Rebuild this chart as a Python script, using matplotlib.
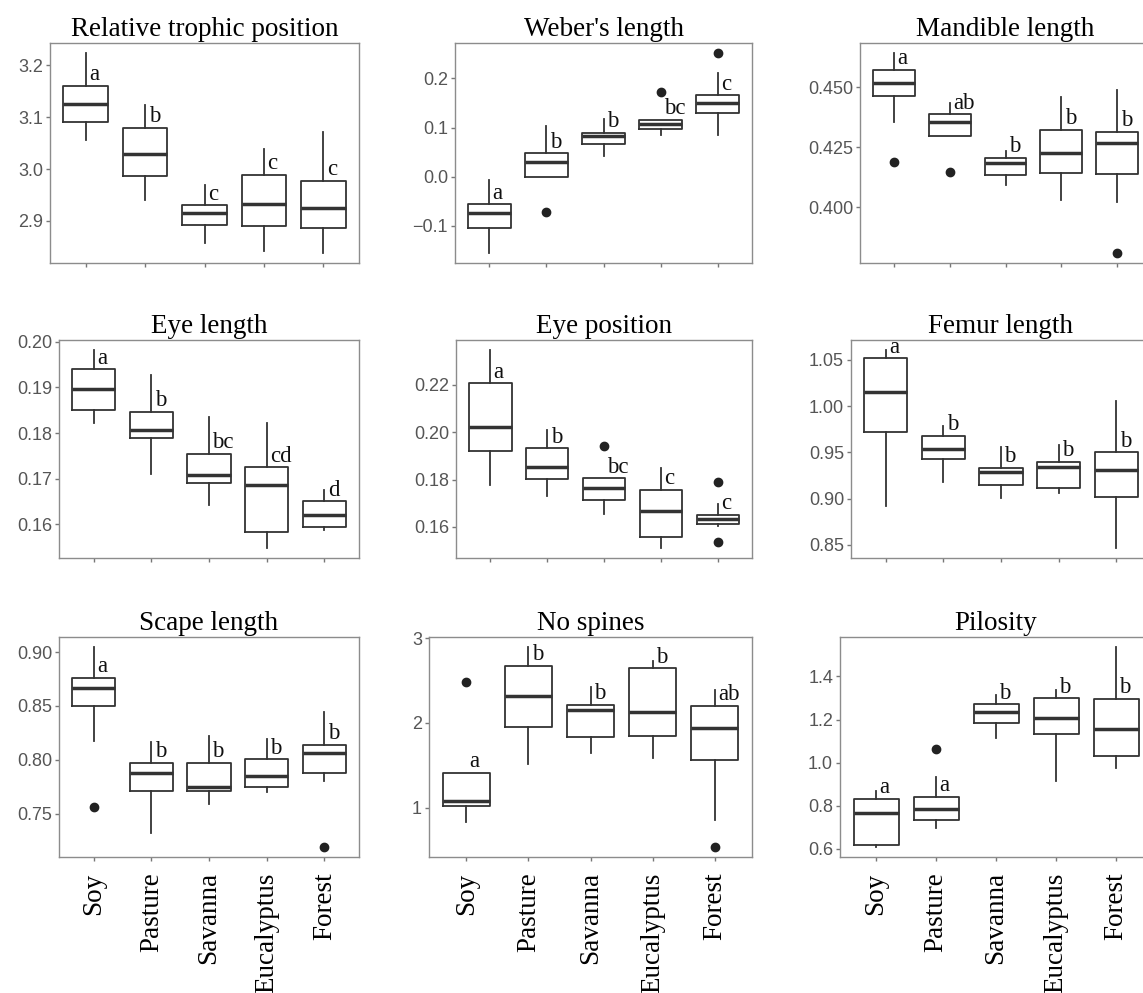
import matplotlib
matplotlib.use("Agg")
import matplotlib.pyplot as plt
from matplotlib.ticker import FixedLocator, FuncFormatter

HABITATS = ["Soy", "Pasture", "Savanna", "Eucalyptus", "Forest"]

# per habitat: (lower whisker, Q1, median, Q3, upper whisker)
TROPHIC = [(3.057, 3.090, 3.125, 3.161, 3.224), (2.941, 2.987, 3.030, 3.080, 3.124),
           (2.858, 2.893, 2.916, 2.930, 2.969), (2.842, 2.890, 2.932, 2.989, 3.039),
           (2.838, 2.887, 2.924, 2.977, 3.071)]
TROPHIC_OUT = [[], [], [], [], []]
TROPHIC_GRP = ["a", "b", "c", "c", "c"]

WEBER = [(-0.156, -0.105, -0.075, -0.057, -0.007), (0.000, 0.000, 0.029, 0.047, 0.103),
         (0.041, 0.066, 0.083, 0.089, 0.118), (0.084, 0.097, 0.107, 0.116, 0.116),
         (0.084, 0.130, 0.149, 0.166, 0.211)]
WEBER_OUT = [[], [-0.073], [], [0.173], [0.252]]
WEBER_GRP = ["a", "b", "b", "bc", "c"]

MANDIBLE = [(0.4358, 0.4465, 0.4518, 0.4574, 0.4644), (0.4297, 0.4297, 0.4358, 0.4388, 0.4434),
            (0.4092, 0.4134, 0.4183, 0.4207, 0.4235), (0.4029, 0.4141, 0.4225, 0.4323, 0.4461),
            (0.4022, 0.4137, 0.4267, 0.4314, 0.4490)]
MANDIBLE_OUT = [[0.4190], [0.4148], [], [], [0.3809]]
MANDIBLE_GRP = ["a", "ab", "b", "b", "b"]

EYE_LEN = [(0.1823, 0.1850, 0.1896, 0.1940, 0.1982), (0.1711, 0.1788, 0.1807, 0.1847, 0.1927),
           (0.1643, 0.1691, 0.1707, 0.1754, 0.1834), (0.1548, 0.1583, 0.1687, 0.1725, 0.1823),
           (0.1587, 0.1594, 0.1621, 0.1651, 0.1676)]
EYE_LEN_OUT = [[], [], [], [], []]
EYE_LEN_GRP = ["a", "b", "bc", "cd", "d"]

EYE_POS = [(0.1777, 0.1919, 0.2023, 0.2207, 0.2348), (0.1732, 0.1802, 0.1854, 0.1932, 0.2010),
           (0.1655, 0.1714, 0.1764, 0.1805, 0.1805), (0.1510, 0.1559, 0.1665, 0.1757, 0.1849),
           (0.1603, 0.1613, 0.1634, 0.1652, 0.1697)]
EYE_POS_OUT = [[], [], [0.1940], [], [0.1788, 0.1535]]
EYE_POS_GRP = ["a", "b", "bc", "c", "c"]

FEMUR = [(0.8914, 0.9723, 1.0155, 1.0518, 1.0608), (0.9184, 0.9428, 0.9536, 0.9680, 0.9788),
         (0.9004, 0.9151, 0.9284, 0.9331, 0.9554), (0.9061, 0.9112, 0.9338, 0.9399, 0.9579),
         (0.8464, 0.9022, 0.9309, 0.9500, 1.0058)]
FEMUR_OUT = [[], [], [], [], []]
FEMUR_GRP = ["a", "b", "b", "b", "b"]

SCAPE = [(0.8175, 0.8502, 0.8667, 0.8760, 0.9047), (0.7323, 0.7709, 0.7880, 0.7973, 0.8160),
         (0.7593, 0.7709, 0.7749, 0.7973, 0.8222), (0.7696, 0.7743, 0.7852, 0.8004, 0.8191),
         (0.7805, 0.7873, 0.8060, 0.8138, 0.8440)]
SCAPE_OUT = [[0.7556], [], [], [], [0.7189]]
SCAPE_GRP = ["a", "b", "b", "b", "b"]

SPINES = [(0.830, 1.020, 1.075, 1.410, 1.410), (1.509, 1.955, 2.318, 2.673, 2.894),
          (1.639, 1.836, 2.152, 2.211, 2.428), (1.580, 1.848, 2.132, 2.645, 2.724),
          (0.858, 1.560, 1.943, 2.199, 2.389)]
SPINES_OUT = [[2.487], [], [], [], [0.535]]
SPINES_GRP = ["a", "b", "b", "b", "ab"]

PILOSITY = [(0.608, 0.617, 0.768, 0.831, 0.870), (0.698, 0.734, 0.784, 0.842, 0.935),
            (1.116, 1.182, 1.233, 1.271, 1.314), (0.913, 1.132, 1.205, 1.299, 1.338),
            (0.976, 1.030, 1.154, 1.296, 1.537)]
PILOSITY_OUT = [[], [1.065], [], [], []]
PILOSITY_GRP = ["a", "a", "b", "b", "b"]

PANELS = [
    ("Relative trophic position", TROPHIC, TROPHIC_OUT, TROPHIC_GRP, [2.9, 3.0, 3.1, 3.2], 1),
    ("Weber's length", WEBER, WEBER_OUT, WEBER_GRP, [-0.1, 0.0, 0.1, 0.2], 1),
    ("Mandible length", MANDIBLE, MANDIBLE_OUT, MANDIBLE_GRP, [0.400, 0.425, 0.450], 3),
    ("Eye length", EYE_LEN, EYE_LEN_OUT, EYE_LEN_GRP, [0.16, 0.17, 0.18, 0.19, 0.20], 2),
    ("Eye position", EYE_POS, EYE_POS_OUT, EYE_POS_GRP, [0.16, 0.18, 0.20, 0.22], 2),
    ("Femur length", FEMUR, FEMUR_OUT, FEMUR_GRP, [0.85, 0.90, 0.95, 1.00, 1.05], 2),
    ("Scape length", SCAPE, SCAPE_OUT, SCAPE_GRP, [0.75, 0.80, 0.85, 0.90], 2),
    ("No spines", SPINES, SPINES_OUT, SPINES_GRP, [1, 2, 3], 0),
    ("Pilosity", PILOSITY, PILOSITY_OUT, PILOSITY_GRP, [0.6, 0.8, 1.0, 1.2, 1.4], 1),
]

# plot areas in pixels: left, top, right, bottom
W, H = 1143, 993
BOXES = [
    (50, 43, 359, 263), (455, 43, 752, 263), (860, 43, 1151, 263),
    (59, 340, 359, 558), (456, 340, 752, 558), (851, 340, 1151, 558),
    (59, 637, 359, 857), (429, 637, 752, 857), (840, 637, 1152, 857),
]

SERIF = "Liberation Serif"
SANS = "Liberation Sans"
EDGE = "#333333"


def tick_fmt(decimals):
    # R-style labels with a proper minus sign
    return FuncFormatter(lambda v, _: f"{v:.{decimals}f}".replace("-", "\u2212"))


fig = plt.figure(figsize=(W / 100, H / 100), dpi=100)
fig.patch.set_facecolor("white")

for i, ((title, stats, outs, grp, yticks, dec), (l, t, r, b)) in enumerate(zip(PANELS, BOXES)):
    ax = fig.add_axes([l / W, 1 - b / H, (r - l) / W, (b - t) / H])
    bxp_stats = []
    for s, o in zip(stats, outs):
        bxp_stats.append({"whislo": s[0], "q1": s[1], "med": s[2], "q3": s[3],
                          "whishi": s[4], "fliers": o})
    pos = list(range(1, len(HABITATS) + 1))
    ax.bxp(bxp_stats, positions=pos, widths=0.75, showcaps=False,
           boxprops=dict(color=EDGE, linewidth=1.3),
           whiskerprops=dict(color=EDGE, linewidth=1.3),
           medianprops=dict(color=EDGE, linewidth=2.5, solid_capstyle="butt"),
           flierprops=dict(marker="o", markerfacecolor="#222222",
                           markeredgecolor="#222222", markersize=6))
    # group letters from the post-hoc test, just above each box
    for x, s, g in zip(pos, stats, grp):
        ax.annotate(g, (x, s[3]), xytext=(2.5, 4), textcoords="offset points",
                    ha="left", va="baseline", fontsize=16.5, family=SERIF,
                    color="#111111")

    ax.set_xlim(0.4, 5.6)
    lo = min(min(s[0] for s in stats), min((v for o in outs for v in o), default=1e9))
    hi = max(max(s[4] for s in stats), max((v for o in outs for v in o), default=-1e9))
    pad = (hi - lo) * 0.05
    ax.set_ylim(lo - pad, hi + pad)
    ax.yaxis.set_major_locator(FixedLocator(yticks))
    ax.yaxis.set_major_formatter(tick_fmt(dec))

    ax.set_title(title, fontsize=19.5, family=SERIF, pad=5)
    ax.set_xticks(pos)
    if i >= 6:
        ax.set_xticklabels(HABITATS, rotation=90, fontsize=19.5, family=SERIF)
    else:
        ax.set_xticklabels([])
    for lab in ax.get_yticklabels():
        lab.set_family(SANS)
    ax.tick_params(axis="y", labelsize=13, labelcolor="#555555", color="#777777",
                   length=3, width=1, pad=2)
    ax.tick_params(axis="x", color="#777777", length=3, width=1, pad=8)
    for sp in ax.spines.values():
        sp.set_color("#8c8c8c")
        sp.set_linewidth(1)

fig.savefig("out.png", dpi=100)
